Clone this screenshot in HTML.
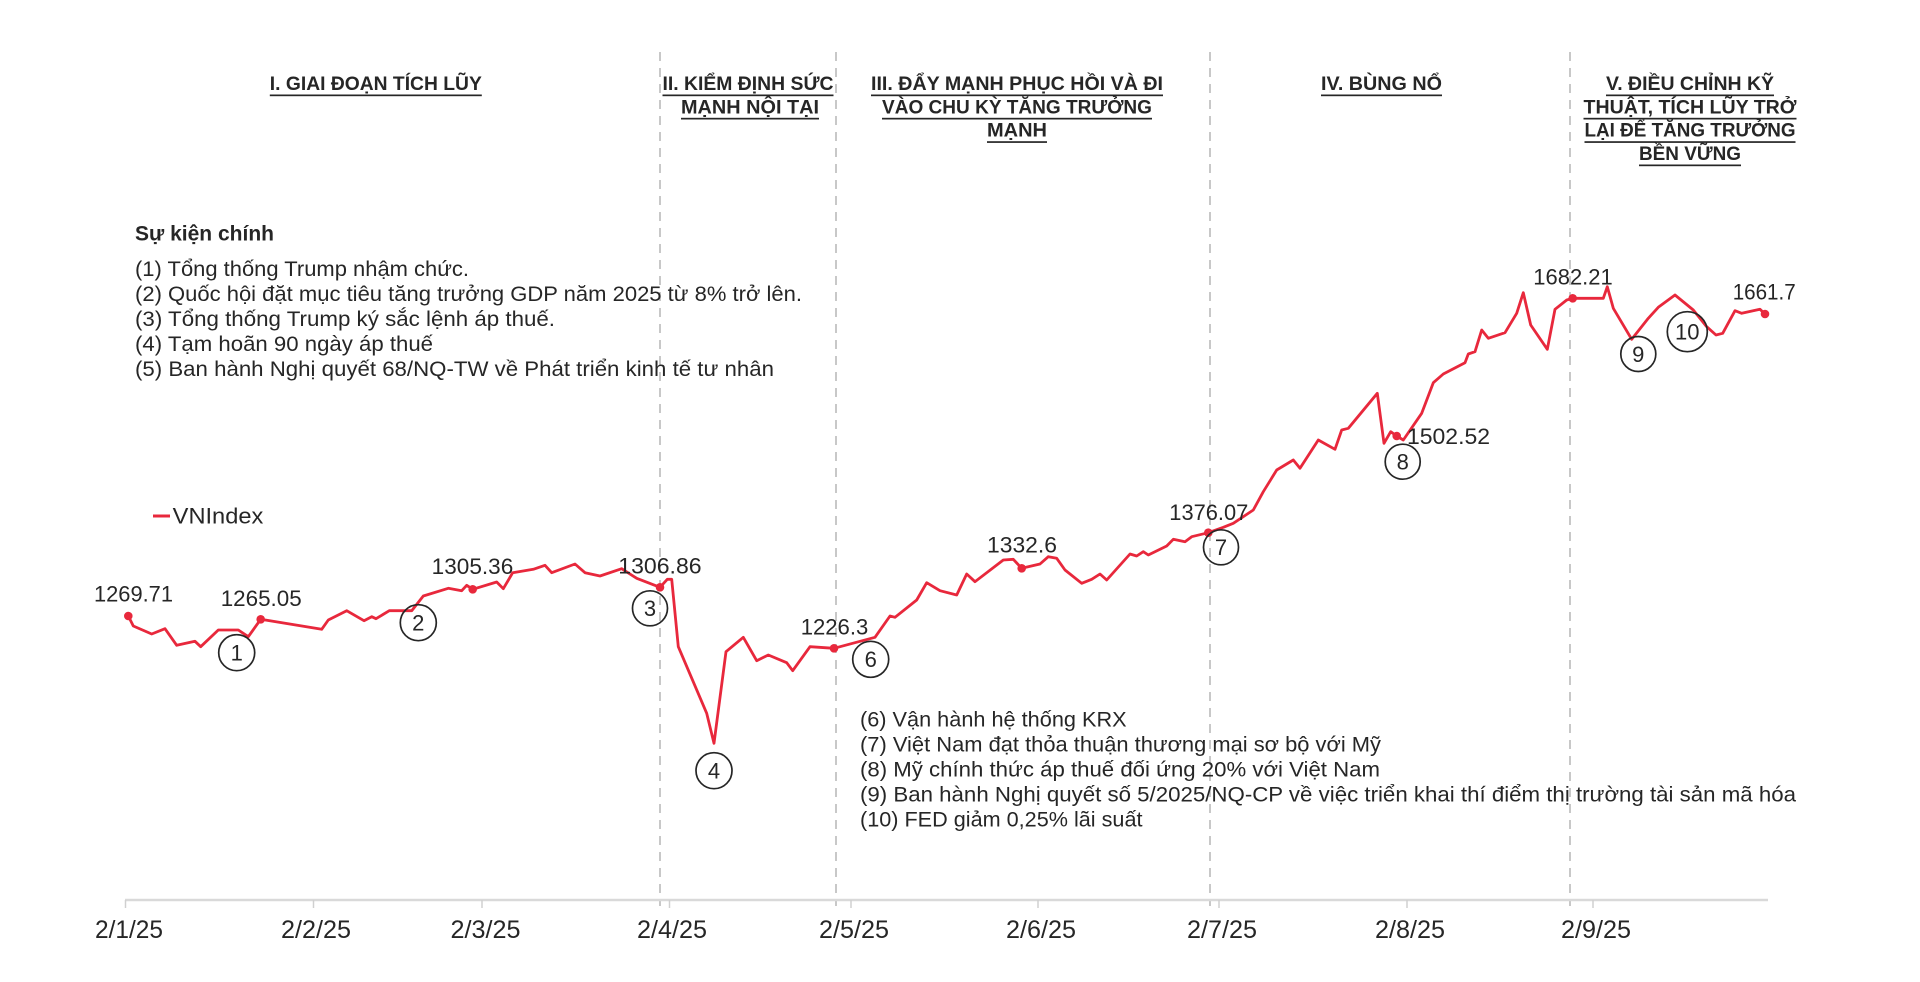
<!DOCTYPE html>
<html>
<head>
<meta charset="utf-8">
<style>
  html, body { margin: 0; padding: 0; background: #ffffff; }
  body { width: 1920px; height: 982px; overflow: hidden; }
  svg { display: block; }
  text { font-family: "Liberation Sans", "DejaVu Sans", sans-serif; fill: #262626; }
  .hd { font-weight: bold; font-size: 19px; text-anchor: middle; }
  .ev { font-size: 21px; }
  .num { font-size: 22.5px; }
  .xl { font-size: 25px; text-anchor: middle; }
  .cn { font-size: 22px; text-anchor: middle; }
</style>
</head>
<body>
<svg width="1920" height="982" viewBox="0 0 1920 982" xmlns="http://www.w3.org/2000/svg">
  <rect x="0" y="0" width="1920" height="982" fill="#ffffff"/>

  <!-- dashed period separators -->
  <g stroke="#b5b5b5" stroke-width="1.5" stroke-dasharray="9,7" fill="none">
    <line x1="660" y1="52" x2="660" y2="906"/>
    <line x1="836" y1="52" x2="836" y2="906"/>
    <line x1="1210" y1="52" x2="1210" y2="906"/>
    <line x1="1570" y1="52" x2="1570" y2="906"/>
  </g>

  <!-- headers -->
  <g>
    <text class="hd" x="375.8" y="90" textLength="212" lengthAdjust="spacingAndGlyphs">I. GIAI ĐOẠN TÍCH LŨY</text>
    <text class="hd" x="748" y="90" textLength="171" lengthAdjust="spacingAndGlyphs">II. KIỂM ĐỊNH SỨC</text>
    <text class="hd" x="750" y="113.3" textLength="138" lengthAdjust="spacingAndGlyphs">MẠNH NỘI TẠI</text>
    <text class="hd" x="1017" y="90" textLength="292" lengthAdjust="spacingAndGlyphs">III. ĐẨY MẠNH PHỤC HỒI VÀ ĐI</text>
    <text class="hd" x="1017" y="113.3" textLength="270" lengthAdjust="spacingAndGlyphs">VÀO CHU KỲ TĂNG TRƯỞNG</text>
    <text class="hd" x="1017" y="136.7" textLength="60" lengthAdjust="spacingAndGlyphs">MẠNH</text>
    <text class="hd" x="1381.5" y="90" textLength="121" lengthAdjust="spacingAndGlyphs">IV. BÙNG NỔ</text>
    <text class="hd" x="1690" y="90" textLength="168" lengthAdjust="spacingAndGlyphs">V. ĐIỀU CHỈNH KỸ</text>
    <text class="hd" x="1690" y="113.3" textLength="213" lengthAdjust="spacingAndGlyphs">THUẬT, TÍCH LŨY TRỞ</text>
    <text class="hd" x="1690" y="136.7" textLength="211" lengthAdjust="spacingAndGlyphs">LẠI ĐỂ TĂNG TRƯỞNG</text>
    <text class="hd" x="1690" y="160" textLength="102" lengthAdjust="spacingAndGlyphs">BỀN VỮNG</text>
  </g>
  <g fill="#262626">
    <rect x="269.8" y="94.5" width="212" height="1.7"/>
    <rect x="662.5" y="94.5" width="171" height="1.7"/>
    <rect x="681" y="117.8" width="138" height="1.7"/>
    <rect x="871" y="94.5" width="292" height="1.7"/>
    <rect x="882" y="117.8" width="270" height="1.7"/>
    <rect x="987" y="141.2" width="60" height="1.7"/>
    <rect x="1321" y="94.5" width="121" height="1.7"/>
    <rect x="1606" y="94.5" width="168" height="1.7"/>
    <rect x="1583.5" y="117.8" width="213" height="1.7"/>
    <rect x="1584.5" y="141.2" width="211" height="1.7"/>
    <rect x="1639" y="164.5" width="102" height="1.7"/>
  </g>

  <!-- event list 1 -->
  <text x="135" y="240.7" style="font-weight:bold;font-size:21px" textLength="139" lengthAdjust="spacingAndGlyphs">Sự kiện chính</text>
  <text class="ev" x="135" y="276" textLength="334" lengthAdjust="spacingAndGlyphs">(1) Tổng thống Trump nhậm chức.</text>
  <text class="ev" x="135" y="301" textLength="667" lengthAdjust="spacingAndGlyphs">(2) Quốc hội đặt mục tiêu tăng trưởng GDP năm 2025 từ 8% trở lên.</text>
  <text class="ev" x="135" y="326" textLength="420" lengthAdjust="spacingAndGlyphs">(3) Tổng thống Trump ký sắc lệnh áp thuế.</text>
  <text class="ev" x="135" y="351" textLength="298" lengthAdjust="spacingAndGlyphs">(4) Tạm hoãn 90 ngày áp thuế</text>
  <text class="ev" x="135" y="376" textLength="639" lengthAdjust="spacingAndGlyphs">(5) Ban hành Nghị quyết 68/NQ-TW về Phát triển kinh tế tư nhân</text>

  <!-- event list 2 -->
  <text class="ev" x="860" y="726.7" textLength="266.6" lengthAdjust="spacingAndGlyphs">(6) Vận hành hệ thống KRX</text>
  <text class="ev" x="860" y="751.7" textLength="521" lengthAdjust="spacingAndGlyphs">(7) Việt Nam đạt thỏa thuận thương mại sơ bộ với Mỹ</text>
  <text class="ev" x="860" y="776.7" textLength="520" lengthAdjust="spacingAndGlyphs">(8) Mỹ chính thức áp thuế đối ứng 20% với Việt Nam</text>
  <text class="ev" x="860" y="801.7" textLength="936" lengthAdjust="spacingAndGlyphs">(9) Ban hành Nghị quyết số 5/2025/NQ-CP về việc triển khai thí điểm thị trường tài sản mã hóa</text>
  <text class="ev" x="860" y="826.7" textLength="282.5" lengthAdjust="spacingAndGlyphs">(10) FED giảm 0,25% lãi suất</text>

  <!-- legend -->
  <line x1="153" y1="516" x2="170" y2="516" stroke="#e8283c" stroke-width="3"/>
  <text x="172.7" y="523.3" style="font-size:22px" textLength="90.6" lengthAdjust="spacingAndGlyphs">VNIndex</text>

  <!-- axis -->
  <line x1="125" y1="900" x2="1768" y2="900" stroke="#d9d9d9" stroke-width="2.5"/>
  <g stroke="#d0d0d0" stroke-width="1.5">
    <line x1="125.5" y1="900" x2="125.5" y2="908"/>
    <line x1="313.5" y1="900" x2="313.5" y2="908"/>
    <line x1="482" y1="900" x2="482" y2="908"/>
    <line x1="669.5" y1="900" x2="669.5" y2="908"/>
    <line x1="851" y1="900" x2="851" y2="908"/>
    <line x1="1038" y1="900" x2="1038" y2="908"/>
    <line x1="1219" y1="900" x2="1219" y2="908"/>
    <line x1="1407" y1="900" x2="1407" y2="908"/>
    <line x1="1593" y1="900" x2="1593" y2="908"/>
  </g>
  <g>
    <text class="xl" x="129" y="938" textLength="68" lengthAdjust="spacingAndGlyphs">2/1/25</text>
    <text class="xl" x="316" y="938" textLength="70" lengthAdjust="spacingAndGlyphs">2/2/25</text>
    <text class="xl" x="485.5" y="938" textLength="70" lengthAdjust="spacingAndGlyphs">2/3/25</text>
    <text class="xl" x="672" y="938" textLength="70" lengthAdjust="spacingAndGlyphs">2/4/25</text>
    <text class="xl" x="854" y="938" textLength="70" lengthAdjust="spacingAndGlyphs">2/5/25</text>
    <text class="xl" x="1041" y="938" textLength="70" lengthAdjust="spacingAndGlyphs">2/6/25</text>
    <text class="xl" x="1222" y="938" textLength="70" lengthAdjust="spacingAndGlyphs">2/7/25</text>
    <text class="xl" x="1410" y="938" textLength="70" lengthAdjust="spacingAndGlyphs">2/8/25</text>
    <text class="xl" x="1596" y="938" textLength="70" lengthAdjust="spacingAndGlyphs">2/9/25</text>
  </g>

  <!-- series -->
  <polyline fill="none" stroke="#e8283c" stroke-width="2.8" stroke-linejoin="round" stroke-linecap="round"
    points="128.3,616 133.3,626 151.7,634 165,628.7 176.7,645.3 195,641.3 200.7,646.7 218.3,630 238.3,630 248.3,636.7 260.7,619.3 321.7,629.3 328.3,620 346.7,610.7 364,620.7 371.7,616.7 376,618.7 389.3,610.7 411.7,610.7 423.3,596 448.3,588.3 461.7,590.7 466.7,585.3 472.7,589.3 496.7,582 503.3,588.7 512.7,572.7 533.3,569.3 545,565.3 551.7,572.7 575,564 585,572.7 600,576 621.7,568.7 636.7,578.3 660,587.3 667.3,579.3 671.7,579.3 678.3,646.7 706.7,713.3 714,743.3 726,651.7 743.3,637.3 756.7,660.7 768.3,655 786.7,662.7 792.7,670.7 810,646.7 834,648.3 875,637.3 890,616 895,617.3 916.7,600 926.7,582.7 940,590.7 956.7,595 966.7,574 975,581.7 1003.3,560 1013.3,559.3 1021.7,568.3 1040,564 1048.3,556.7 1056.7,558.3 1065,570 1081.7,583.3 1091.7,579.3 1100,574 1106.7,580 1130,554 1136.7,556 1143.3,551.7 1148.3,555 1166.7,546 1173.3,539.3 1185,541.7 1191.7,536.7 1208.3,532.7 1223.3,527.3 1233.3,523.3 1253.3,510 1263.3,491.7 1276.7,470 1293.3,460 1300,468.3 1318.3,440 1335,449.3 1341.7,430 1348.3,428.3 1377.3,393.3 1384,443.3 1390.7,431.7 1396.7,436 1403.3,440 1421.7,413.3 1433.3,382.7 1443.3,374 1465,362.7 1468.3,354 1475,351.7 1481.7,330 1488.3,338.3 1505,332.7 1516.7,313.3 1523.3,292.7 1530.7,325 1547.3,349.3 1555,309.3 1566.7,300 1572.7,298.3 1603.3,298.3 1607.3,286.7 1613.3,308.3 1631.7,339.3 1648.3,318.3 1658.3,307.3 1675,295 1693.3,310 1706.7,326.7 1716,335 1722.7,333.3 1735,310.7 1741.7,313.3 1760,309.3 1765,314"/>

  <!-- highlighted points -->
  <g fill="#e8283c">
    <circle cx="128.3" cy="616" r="4.3"/>
    <circle cx="260.7" cy="619.3" r="4.3"/>
    <circle cx="472.7" cy="589.3" r="4.3"/>
    <circle cx="660" cy="587.3" r="4.3"/>
    <circle cx="834" cy="648.3" r="4.3"/>
    <circle cx="1021.7" cy="568.3" r="4.3"/>
    <circle cx="1208.3" cy="532.7" r="4.3"/>
    <circle cx="1396.7" cy="436" r="4.3"/>
    <circle cx="1572.7" cy="298.3" r="4.3"/>
    <circle cx="1765" cy="314" r="4.3"/>
  </g>

  <!-- value labels -->
  <g>
    <text class="num" x="94" y="601.7" textLength="79" lengthAdjust="spacingAndGlyphs">1269.71</text>
    <text class="num" x="220.7" y="606" textLength="81" lengthAdjust="spacingAndGlyphs">1265.05</text>
    <text class="num" x="431.7" y="574" textLength="81.6" lengthAdjust="spacingAndGlyphs">1305.36</text>
    <text class="num" x="618.3" y="573.3" textLength="83.3" lengthAdjust="spacingAndGlyphs">1306.86</text>
    <text class="num" x="800.7" y="634.3" textLength="67.6" lengthAdjust="spacingAndGlyphs">1226.3</text>
    <text class="num" x="987" y="552.7" textLength="70" lengthAdjust="spacingAndGlyphs">1332.6</text>
    <text class="num" x="1169.3" y="520" textLength="79" lengthAdjust="spacingAndGlyphs">1376.07</text>
    <text class="num" x="1407" y="444" textLength="83" lengthAdjust="spacingAndGlyphs">1502.52</text>
    <text class="num" x="1533.3" y="284.3" textLength="79.4" lengthAdjust="spacingAndGlyphs">1682.21</text>
    <text class="num" x="1732.7" y="299.3" textLength="63" lengthAdjust="spacingAndGlyphs">1661.7</text>
  </g>

  <!-- event markers -->
  <g fill="none" stroke="#262626" stroke-width="1.7">
    <circle cx="236.7" cy="652.7" r="18"/>
    <circle cx="418.3" cy="622.7" r="18"/>
    <circle cx="650" cy="608.3" r="17.5"/>
    <circle cx="714" cy="770.7" r="18"/>
    <circle cx="870.7" cy="659.3" r="18"/>
    <circle cx="1221" cy="547.3" r="17.5"/>
    <circle cx="1402.7" cy="461.7" r="17.5"/>
    <circle cx="1638.3" cy="354" r="17.5"/>
    <circle cx="1687.3" cy="331.7" r="20"/>
  </g>
  <g>
    <text class="cn" x="236.7" y="660.5">1</text>
    <text class="cn" x="418.3" y="630.5">2</text>
    <text class="cn" x="650" y="616.1">3</text>
    <text class="cn" x="714" y="778.5">4</text>
    <text class="cn" x="870.7" y="667.1">6</text>
    <text class="cn" x="1221" y="555.1">7</text>
    <text class="cn" x="1402.7" y="469.5">8</text>
    <text class="cn" x="1638.3" y="361.8">9</text>
    <text class="cn" x="1687.3" y="339.5">10</text>
  </g>
</svg>
</body>
</html>
